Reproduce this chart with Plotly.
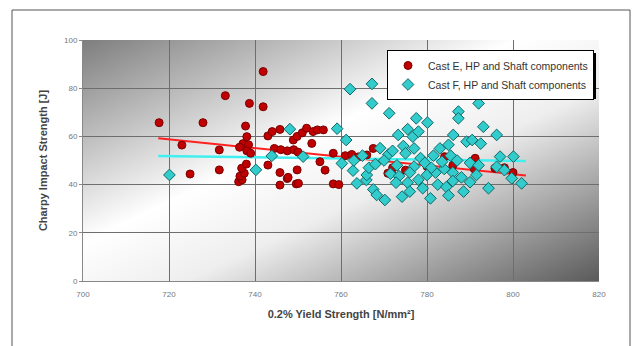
import plotly.graph_objects as go
import base64

# ---------------- data ----------------
cast_e_x = [717.7, 723.0, 724.9, 727.9, 733.1, 731.7, 731.7,
            736.2, 737.0, 736.5, 737.5, 736.9, 738.0,
            737.8, 738.7, 741.9, 741.9, 738.1, 737.2, 738.5, 736.4, 738.1, 739.0,
            743.0, 743.0, 744.0, 745.8, 745.8, 745.8, 747.5, 747.7, 749.6, 750.1, 749.8,
            744.5, 746.0, 747.5, 749.0, 750.0,
            748.9, 749.8, 751.0, 752.0, 753.5, 754.5, 755.9, 753.2, 755.1, 756.3,
            758.2, 759.5, 758.2, 761.0, 762.5, 764.0, 767.5, 766.0, 771.8, 772.0,
            770.9, 775.0, 780.0, 784.1, 786.0, 791.2, 791.0, 795.8, 798.0, 800.0]
cast_e_y = [65.7, 56.4, 44.4, 65.7, 76.9, 54.4, 46.1,
            41.2, 42.0, 43.5, 44.7, 46.8, 48.5,
            64.3, 73.7, 72.3, 86.9, 59.9, 57.0, 56.5, 55.5, 54.0, 53.0,
            48.1, 60.2, 62.0, 62.9, 45.0, 39.8, 42.5, 43.0, 40.3, 40.5, 46.1,
            55.0, 54.5, 54.0, 54.5, 53.5,
            58.5, 60.0, 61.5, 63.4, 62.0, 62.7, 62.7, 57.1, 49.5, 46.0,
            40.3, 40.0, 53.0, 52.0, 52.5, 51.5, 55.0, 52.3, 44.7, 47.0,
            44.7, 46.0, 47.5, 51.6, 48.0, 50.9, 46.5, 46.8, 47.0, 45.0]

cast_f_x = [720.1, 740.2, 743.9, 748.1, 751.2, 759.1, 762.1, 767.2, 767.2, 771.2,
            761.2, 760.2, 762.8, 763.7, 765.9, 766.0, 766.5, 767.5, 768.3, 770.2,
            769.1, 771.0, 773.3, 776.7, 777.5, 780.1, 775.5, 778.0, 774.5, 777.0,
            772.0, 775.0, 778.5, 771.5, 773.5, 775.5, 776.0, 774.2, 772.8, 778.0,
            780.0, 782.0, 784.0, 779.0, 780.8, 782.5, 784.5, 777.0, 779.5, 781.5,
            783.0, 785.0, 786.1, 789.2, 790.5, 792.5, 787.3, 787.3, 792.0, 793.1,
            796.2, 785.5, 787.0, 790.0, 792.0, 786.0, 788.0, 788.5, 790.0, 791.5,
            786.0, 794.3, 797.0, 800.1, 796.2, 799.7, 802.0, 798.0, 783.5, 781.0,
            770.0, 768.0, 765.0, 763.0, 773.0, 776.0, 785.0]
cast_f_y = [44.0, 46.1, 51.9, 63.0, 51.6, 63.2, 79.6, 81.8, 73.7, 69.6,
            58.5, 48.8, 45.8, 40.5, 41.9, 44.0, 47.0, 38.0, 35.7, 33.6,
            55.1, 52.5, 60.6, 59.9, 67.5, 65.7, 63.0, 62.0, 56.0, 55.0,
            54.0, 53.0, 51.0, 44.5, 43.5, 40.8, 37.1, 35.0, 40.8, 42.0,
            44.0, 45.0, 46.5, 38.5, 34.3, 40.0, 39.0, 47.5, 49.0, 52.0,
            55.0, 56.5, 60.6, 57.8, 58.5, 57.0, 70.3, 67.5, 73.7, 64.0,
            60.6, 52.0, 50.0, 49.0, 48.0, 45.0, 43.0, 37.1, 41.0, 44.0,
            41.5, 38.5, 51.6, 51.6, 47.4, 42.6, 40.5, 46.0, 49.5, 47.0,
            50.0, 48.5, 52.0, 50.0, 48.0, 45.0, 35.5]

trend_x = [717.5, 803.0]
trend_e_y = [59.2, 43.8]
trend_f_y = [51.9, 49.8]

x_ticks = [700, 720, 740, 760, 780, 800, 820]
y_ticks = [0, 20, 40, 60, 80, 100]

# ---------------- layout geometry (pixels) ----------------
W, H = 638, 346
L, R, T, B = 83, 599, 40, 281


def px(x):
    return (x - L) / (R - L)


def py(y):
    return (B - y) / (B - T)


svg = ('<svg xmlns="http://www.w3.org/2000/svg" width="516" height="241" '
       'preserveAspectRatio="none" viewBox="0 0 516 241">'
       '<defs><linearGradient id="g" x1="0" y1="0" x2="1" y2="1">'
       '<stop offset="0" stop-color="#7e7e7e"/>'
       '<stop offset="0.42" stop-color="#ffffff"/>'
       '<stop offset="0.6" stop-color="#eeeeee"/>'
       '<stop offset="1" stop-color="#5a5a5a"/>'
       '</linearGradient></defs>'
       '<rect width="516" height="241" fill="url(#g)"/></svg>')
svg_uri = "data:image/svg+xml;base64," + base64.b64encode(svg.encode()).decode()

fig = go.Figure()

fig.add_trace(go.Scatter(
    x=trend_x, y=trend_e_y, mode="lines",
    line=dict(color="#ff2020", width=2), showlegend=False, hoverinfo="skip"))
fig.add_trace(go.Scatter(
    x=trend_x, y=trend_f_y, mode="lines",
    line=dict(color="#40f0f0", width=2.5), showlegend=False, hoverinfo="skip"))

fig.add_trace(go.Scatter(
    x=cast_e_x, y=cast_e_y, mode="markers",
    name="Cast E, HP and Shaft components",
    marker=dict(symbol="circle", size=8, color="#c00000",
                line=dict(color="#7a0000", width=1))))
fig.add_trace(go.Scatter(
    x=cast_f_x, y=cast_f_y, mode="markers",
    name="Cast F, HP and Shaft components",
    marker=dict(symbol="diamond", size=9, color="#33cccc",
                line=dict(color="#116666", width=1))))

fig.update_layout(
    width=W, height=H,
    margin=dict(l=L, r=W - R, t=T, b=H - B, pad=0),
    paper_bgcolor="white",
    plot_bgcolor="rgba(0,0,0,0)",
    font=dict(family="Liberation Sans, Arial, sans-serif", color="#333"),
    images=[dict(source=svg_uri, xref="paper", yref="paper", x=0, y=1,
                 sizex=1, sizey=1, sizing="stretch", layer="below",
                 xanchor="left", yanchor="top")],
    xaxis=dict(range=[700, 820], tickvals=x_ticks, ticktext=[str(v) for v in x_ticks],
               showgrid=True, gridcolor="#6e6e6e", gridwidth=1,
               showline=True, linecolor="#888", linewidth=1,
               ticks="outside", ticklen=5, tickcolor="rgba(0,0,0,0)",
               tickfont=dict(size=8, color="#777"), zeroline=False,
               title=dict(text="<b>0.2% Yield Strength [N/mm²]</b>",
                          font=dict(size=11, color="#444"), standoff=12)),
    yaxis=dict(range=[0, 100], tickvals=y_ticks, ticktext=[str(v) for v in y_ticks],
               showgrid=True, gridcolor="#6e6e6e", gridwidth=1,
               showline=True, linecolor="#888", linewidth=1,
               ticks="outside", ticklen=3, tickcolor="#888",
               tickfont=dict(size=8, color="#777"), zeroline=False,
               title=dict(text="<b>Charpy Impact Strength [J]</b>",
                          font=dict(size=11, color="#444"), standoff=14)),
    legend=dict(x=px(387), y=py(50), xanchor="left", yanchor="top",
                bgcolor="white", bordercolor="black", borderwidth=1,
                font=dict(size=10.5, color="#333"), tracegroupgap=0,
                itemwidth=30),
    shapes=[
        dict(type="rect", xref="paper", yref="paper",
             x0=px(12), x1=px(630), y0=py(352), y1=py(10),
             line=dict(color="#555", width=1), fillcolor="rgba(0,0,0,0)",
             layer="below"),
        dict(type="rect", xref="paper", yref="paper",
             x0=px(390), x1=px(596), y0=py(99), y1=py(53),
             line=dict(width=0), fillcolor="black", layer="above"),
    ],
)

fig.write_html("out.html")
